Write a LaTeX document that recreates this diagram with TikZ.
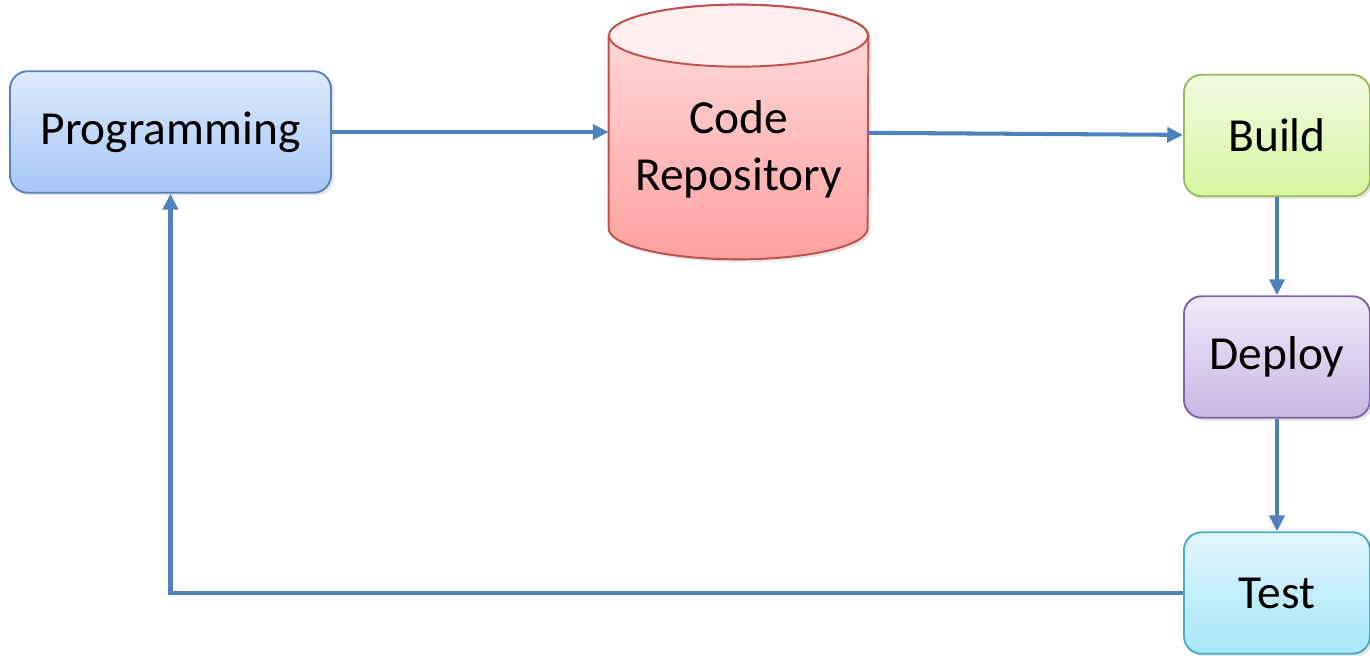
\documentclass[tikz,border=0pt]{standalone}
\usepackage{fontspec}
\setmainfont{Carlito}
\usepackage{tikz}
\usetikzlibrary{shapes.geometric,arrows.meta,positioning,shadows}
\definecolor{lineblue}{RGB}{79,129,189}
\definecolor{progtop}{RGB}{222,234,252}
\definecolor{progbot}{RGB}{166,198,246}
\definecolor{progline}{RGB}{88,130,190}
\definecolor{repoend}{RGB}{255,238,238}
\definecolor{repotop}{RGB}{255,222,222}
\definecolor{repobot}{RGB}{255,160,160}
\definecolor{repoline}{RGB}{192,80,77}
\definecolor{buildtop}{RGB}{242,251,226}
\definecolor{buildbot}{RGB}{214,246,160}
\definecolor{buildline}{RGB}{155,187,89}
\definecolor{deploytop}{RGB}{240,235,249}
\definecolor{deploybot}{RGB}{201,182,228}
\definecolor{deployline}{RGB}{128,100,162}
\definecolor{testtop}{RGB}{226,246,253}
\definecolor{testbot}{RGB}{166,230,250}
\definecolor{testline}{RGB}{75,172,198}
\tikzset{
  softshadow/.style={drop shadow={opacity=0.18,shadow xshift=0.06cm,shadow yshift=-0.06cm}},
  stepbox/.style={draw=#1line,line width=1.1pt,rounded corners=10pt,top color=#1top,bottom color=#1bot,
    minimum height=2.43cm,align=center,font=\fontsize{27}{32.5}\selectfont,softshadow},
  storebody/.style={draw=#1line,line width=1.1pt,top color=#1top,bottom color=#1bot,softshadow},
  storeend/.style={draw=#1line,line width=1.1pt,fill=#1end},
  bigtext/.style={align=center,font=\fontsize{27}{32.5}\selectfont},
}

\begin{document}
\begin{tikzpicture}[
    arr/.style={-{Triangle[length=9pt,width=8.5pt]},line width=2.3pt,draw=lineblue},
  ]
  \useasboundingbox (0,0) rectangle (27.4,13.1);

  \node[stepbox=prog,minimum width=6.42cm] (prog) at (3.41,10.46) {Programming};

  % Repository (cylinder)
  \node[minimum width=5.18cm,minimum height=5.08cm,inner sep=0pt] (repo) at (14.77,10.46) {};
  \path[storebody=repo] ([yshift=-0.62cm]repo.north west) -- ([yshift=0.62cm]repo.south west)
    arc[start angle=180,end angle=360,x radius=2.59cm,y radius=0.62cm]
    -- ([yshift=-0.62cm]repo.north east)
    arc[start angle=0,end angle=180,x radius=2.59cm,y radius=0.62cm] -- cycle;
  \path[storeend=repo] ([yshift=-0.62cm]repo.north) ellipse[x radius=2.59cm,y radius=0.62cm];
  \node[bigtext] (repotxt) at ([yshift=-0.34cm]repo.center) {Code\\Repository};

  \node[stepbox=build,minimum width=3.72cm] (build) at (25.54,10.39) {Build};
  \node[stepbox=deploy,minimum width=3.72cm] (deploy) at (25.54,5.96) {Deploy};
  \node[stepbox=test,minimum width=3.72cm] (test) at (25.54,1.24) {Test};

  % flow
  \draw[arr] (prog) -- (repo);
  \draw[arr] (repo) -- (build);
  \draw[arr] (build) -- (deploy);
  \draw[arr] (deploy) -- (test);
  % back to the start
  \draw[arr] (test.west) -| (prog.south);
\end{tikzpicture}
\end{document}
